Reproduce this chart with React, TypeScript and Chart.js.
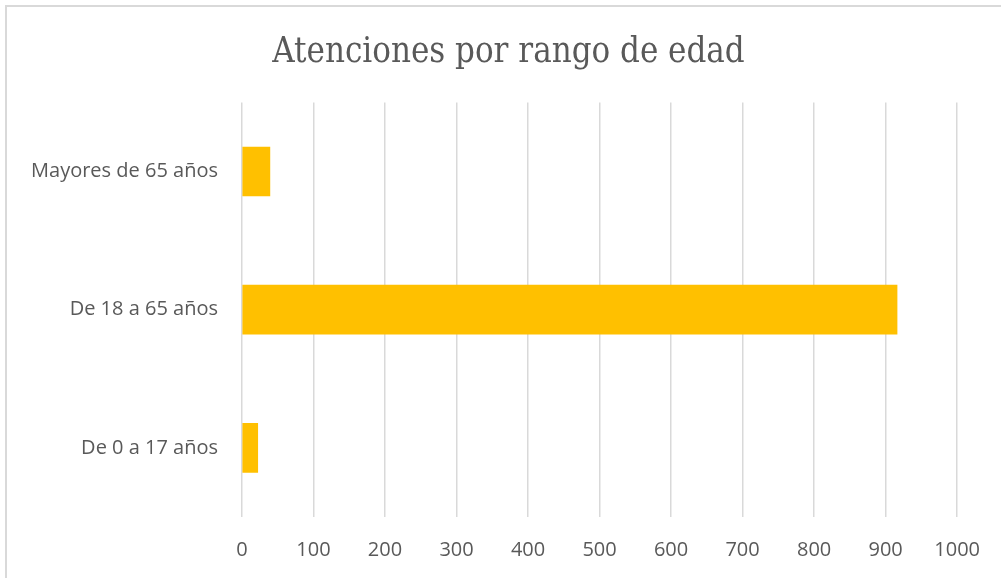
import React, { useEffect, useRef } from "react";
import { Chart, registerables } from "chart.js";

Chart.register(...registerables);

const TITLE = "Atenciones por rango de edad";
const categories = ["Mayores de 65 años", "De 18 a 65 años", "De 0 a 17 años"];
const values = [39, 916, 22];
const xMin = 0;
const xMax = 1000;
const xStep = 100;

const centerTitle = {
  id: "centerTitle",
  afterLayout(chart: any) {
    const tb = chart.titleBlock;
    if (tb) {
      tb.left = 16;
      tb.right = chart.width;
      tb.width = chart.width - 16;
    }
  },
};

export default function App() {
  const ref = useRef<HTMLCanvasElement | null>(null);

  useEffect(() => {
    const canvas = ref.current;
    if (!canvas) return;
    const chart = new Chart(canvas, {
      type: "bar",
      data: {
        labels: categories,
        datasets: [
          {
            data: values,
            backgroundColor: "#FFC000",
            borderWidth: 0,
            barThickness: 49,
          },
        ],
      },
      plugins: [centerTitle],
      options: {
        indexAxis: "y",
        animation: false,
        responsive: false,
        maintainAspectRatio: false,
        layout: { padding: { left: 16, right: 43, top: 0, bottom: 0 } },
        plugins: {
          legend: { display: false },
          tooltip: { enabled: false },
          title: {
            display: true,
            text: TITLE,
            color: "#595959",
            font: { family: "'DejaVu Serif Condensed', 'Liberation Serif', serif", size: 34.5, weight: "normal", lineHeight: 1.2 },
            padding: { top: 32, bottom: 29 },
          },
        },
        scales: {
          x: {
            type: "linear",
            min: xMin,
            max: xMax,
            ticks: {
              stepSize: xStep,
              color: "#595959",
              font: { family: "'Open Sans', sans-serif", size: 20 },
              padding: 21,
              callback: (v: any) => String(v),
            },
            grid: { color: "#d9d9d9", lineWidth: 1.5, drawTicks: false },
            border: { display: false },
            afterFit: (scale: any) => {
              scale.height = 61;
            },
          },
          y: {
            ticks: {
              color: "#595959",
              font: { family: "'Open Sans', sans-serif", size: 20 },
              padding: 24,
            },
            grid: { display: false, drawTicks: false },
            border: { display: false },
            afterFit: (scale: any) => {
              scale.width = 226;
            },
          },
        },
      },
    });
    return () => chart.destroy();
  }, []);

  return (
    <div style={{ position: "fixed", left: 0, top: 0, width: 1001, height: 578, overflow: "hidden", background: "#fff" }}>
      <div
        style={{
          position: "absolute",
          left: 5,
          top: 5,
          width: 1020,
          height: 620,
          border: "2px solid #d9d9d9",
          boxSizing: "border-box",
        }}
      />
      <canvas ref={ref} width={1001} height={578} style={{ position: "absolute", left: 0, top: 0, width: 1001, height: 578 }} />
    </div>
  );
}
